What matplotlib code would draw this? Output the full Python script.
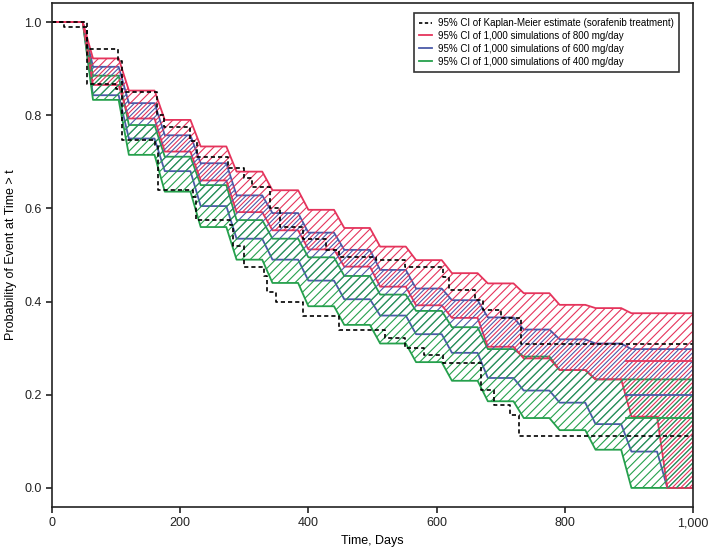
import numpy as np
import matplotlib.pyplot as plt
from matplotlib.collections import LineCollection
from matplotlib.lines import Line2D

plt.rcParams['font.family'] = ['Liberation Sans', 'DejaVu Sans']

# start day of each 8-week interval of the simulated bands
step_days = [0, 56, 112, 168, 224, 280, 336, 392, 448, 504, 560, 616, 672, 728, 784, 840, 896, 952]

red_upper = [1.0, 0.922, 0.853, 0.790, 0.733, 0.679, 0.639, 0.597, 0.558, 0.518, 0.489, 0.461, 0.439, 0.418, 0.393, 0.386, 0.375, 0.375]
red_lower = [1.0, 0.865, 0.793, 0.722, 0.660, 0.592, 0.553, 0.512, 0.475, 0.432, 0.392, 0.365, 0.303, 0.278, 0.253, 0.233, 0.153, 0.0]
blue_upper = [1.0, 0.904, 0.826, 0.757, 0.697, 0.628, 0.590, 0.548, 0.511, 0.468, 0.428, 0.403, 0.366, 0.340, 0.319, 0.310, 0.298, 0.298]
blue_lower = [1.0, 0.843, 0.750, 0.680, 0.605, 0.535, 0.490, 0.445, 0.405, 0.370, 0.330, 0.290, 0.236, 0.209, 0.183, 0.137, 0.078, 0.0]
green_upper = [1.0, 0.885, 0.779, 0.711, 0.650, 0.575, 0.535, 0.495, 0.455, 0.415, 0.380, 0.345, 0.298, 0.282, 0.253, 0.233, 0.233, 0.233]
green_lower = [1.0, 0.833, 0.715, 0.636, 0.560, 0.490, 0.440, 0.390, 0.350, 0.310, 0.270, 0.230, 0.186, 0.150, 0.124, 0.082, 0.0, 0.0]

# horizontal tail lines near the end (start day, level)
red_tail = (896, 0.273)
blue_tail = (896, 0.199)
green_tail = (896, 0.150)

# Kaplan-Meier 95% CI (step functions)
km_up_t = [0, 54, 103, 110, 164, 175, 215, 226, 274, 300, 312, 340, 356, 392, 427, 448, 505, 550, 610, 620, 660, 672, 700, 731, 1000]
km_up_v = [1.0, 0.943, 0.916, 0.850, 0.800, 0.775, 0.745, 0.711, 0.687, 0.665, 0.645, 0.600, 0.560, 0.535, 0.511, 0.496, 0.489, 0.475, 0.453, 0.425, 0.403, 0.382, 0.365, 0.310, 0.310]
km_lo_t = [0, 18, 54, 100, 110, 160, 166, 220, 224, 278, 282, 300, 330, 336, 350, 392, 448, 520, 550, 580, 610, 669, 690, 715, 728, 1000]
km_lo_v = [1.0, 0.99, 0.868, 0.857, 0.747, 0.737, 0.639, 0.625, 0.575, 0.565, 0.520, 0.475, 0.455, 0.420, 0.400, 0.368, 0.340, 0.322, 0.300, 0.285, 0.268, 0.210, 0.178, 0.157, 0.112, 0.112]

RED = '#e5345c'
BLUE = '#4b5aa8'
GREEN = '#25a04c'

fig = plt.figure(figsize=(7.09, 5.52), dpi=100)
ax = fig.add_axes([0.0733, 0.0815, 0.9041, 0.9131])
ax.set_xlim(0, 1000)
ax.set_ylim(-0.041, 1.041)


def edge(levels):
    xs, ys = [0], [levels[0]]
    for d, a, b in zip(step_days[1:], levels[:-1], levels[1:]):
        xs += [d - 8, d + 8]
        ys += [a, b]
    xs.append(1000)
    ys.append(levels[-1])
    return np.array(xs), np.array(ys)


W, H = 641.0, 504.0  # axes size in pixels
SP = 8.5


def band(lo, hi, color, phase):
    x, y1 = edge(hi)
    _, y0 = edge(lo)
    poly = ax.fill_between(x, y0, y1, facecolor='none', edgecolor='none')
    offs = np.arange(-H + phase * SP, W, SP)
    segs = [[(c / W, 0), ((c + H) / W, 1)] for c in offs]
    lc = LineCollection(segs, colors=color, linewidths=0.8, transform=ax.transAxes)
    lc.set_clip_path(poly.get_paths()[0], ax.transData)
    ax.add_collection(lc)
    return x, y0, y1


bands = [(blue_lower, blue_upper, BLUE, 0.5),
         (green_lower, green_upper, GREEN, 0.5),
         (red_lower, red_upper, RED, 0.0)]
outlines = []
for lo, hi, c, ph in bands:
    outlines.append((band(lo, hi, c, ph), c))

for (x, y0, y1), c in outlines:
    ax.fill_between(x, y0, y1, facecolor='none', edgecolor=c, linewidth=1.3)

for (t0, lev), c in [(blue_tail, BLUE), (green_tail, GREEN), (red_tail, RED)]:
    ax.plot([t0, 1000], [lev, lev], color=c, lw=1.3)

ax.step(km_up_t, km_up_v, where='post', color='black', lw=1.2, ls=(0, (2.5, 1.8)))
ax.step(km_lo_t, km_lo_v, where='post', color='black', lw=1.2, ls=(0, (2.5, 1.8)))

ax.set_xticks([0, 200, 400, 600, 800, 1000])
ax.set_xticklabels(['0', '200', '400', '600', '800', '1,000'])
ax.set_yticks([0.0, 0.2, 0.4, 0.6, 0.8, 1.0])
ax.set_yticklabels(['0.0', '0.2', '0.4', '0.6', '0.8', '1.0'])
ax.tick_params(direction='out', length=4, width=1.2, labelsize=9, colors='#222222')
for s in ax.spines.values():
    s.set_linewidth(1.2)
    s.set_color('#222222')
ax.set_xlabel('Time, Days', fontsize=9, labelpad=4)
ax.set_ylabel('Probability of Event at Time > t', fontsize=9, labelpad=5)

handles = [Line2D([], [], color='black', lw=1.2, ls=(0, (2, 1.5))),
           Line2D([], [], color=RED, lw=1.3),
           Line2D([], [], color=BLUE, lw=1.3),
           Line2D([], [], color=GREEN, lw=1.3)]
labels = ['95% CI of Kaplan-Meier estimate (sorafenib treatment)',
          '95% CI of 1,000 simulations of 800 mg/day',
          '95% CI of 1,000 simulations of 600 mg/day',
          '95% CI of 1,000 simulations of 400 mg/day']
leg = ax.legend(handles, labels, loc='upper right', bbox_to_anchor=(0.978, 0.980),
                borderaxespad=0, fontsize=7.0, frameon=True, fancybox=False,
                edgecolor='black', handlelength=1.4, handletextpad=0.6,
                labelspacing=0.3, borderpad=0.5)
leg.get_frame().set_linewidth(1.2)

fig.savefig('out.png', dpi=100)
